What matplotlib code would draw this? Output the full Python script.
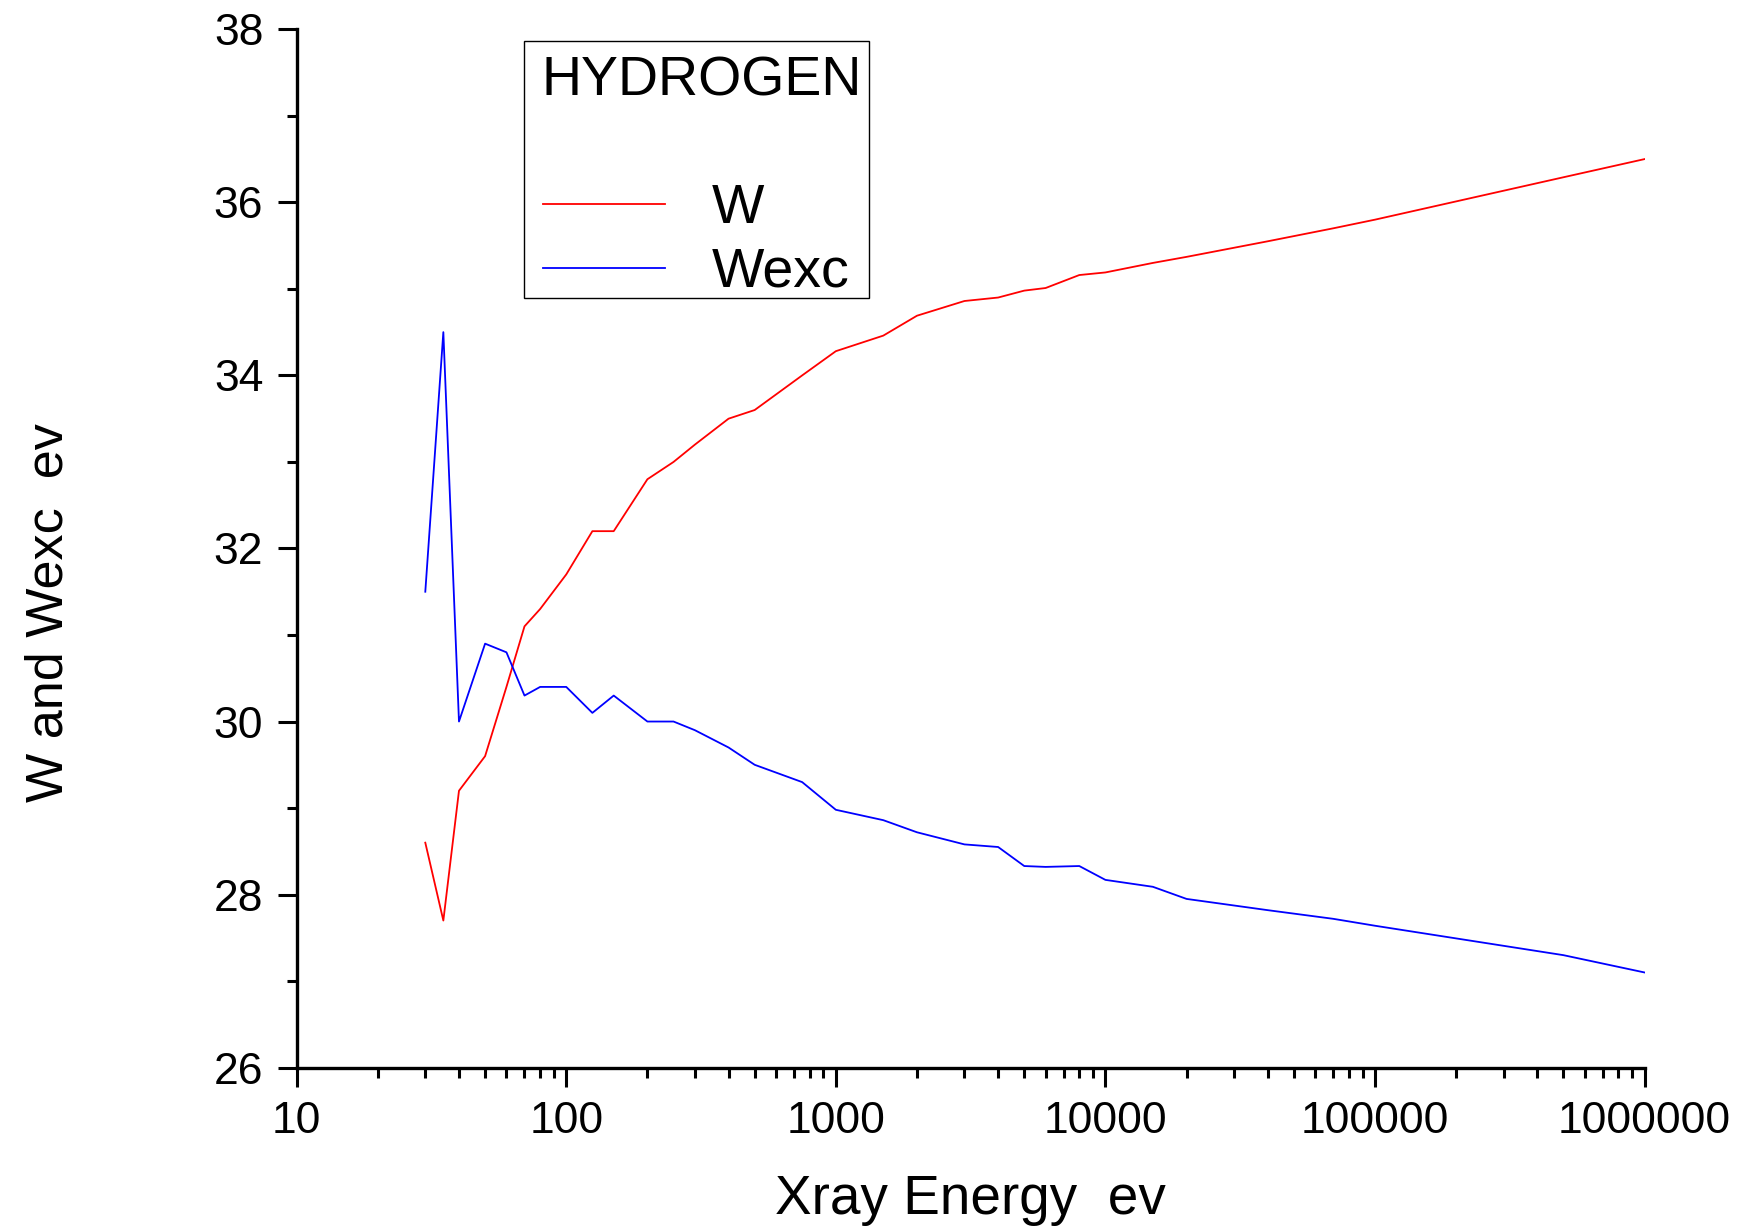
import matplotlib
matplotlib.use('Agg')
import matplotlib.pyplot as plt
from matplotlib.patches import Rectangle
from matplotlib.ticker import FixedLocator, FuncFormatter, LogLocator, NullFormatter

plt.rcParams['font.family'] = ['Liberation Sans', 'DejaVu Sans']

# photon energy (eV) and the two work functions for hydrogen
energy = [30, 35, 40, 50, 60, 70, 80, 100, 125, 150, 200, 250, 300, 400, 500, 750,
          1000, 1500, 2000, 3000, 4000, 5000, 6000, 8000, 10000, 15000, 20000,
          40000, 70000, 100000, 500000, 1000000]
w_vals = [28.6, 27.7, 29.2, 29.6, 30.4, 31.1, 31.3, 31.7, 32.2, 32.2, 32.8, 33.0, 33.2,
          33.5, 33.6, 34.0, 34.28, 34.46, 34.69, 34.86, 34.9, 34.98, 35.01, 35.16,
          35.19, 35.3, 35.37, 35.55, 35.7, 35.8, 36.29, 36.5]
wexc_vals = [31.5, 34.5, 30.0, 30.9, 30.8, 30.3, 30.4, 30.4, 30.1, 30.3, 30.0, 30.0,
             29.9, 29.7, 29.5, 29.3, 28.98, 28.86, 28.72, 28.58, 28.55, 28.33, 28.32,
             28.33, 28.17, 28.09, 27.95, 27.82, 27.72, 27.64, 27.3, 27.1]

fig = plt.figure(figsize=(17.39, 12.31), dpi=100)
ax = fig.add_axes([0.1706, 0.1327, 0.7751, 0.8435])

ln_w, = ax.plot(energy, w_vals, color='#ff0000', lw=1.3)
ln_x, = ax.plot(energy, wexc_vals, color='#0000ff', lw=1.3)

ax.set_xscale('log')
ax.set_xlim(10, 1e6)
ax.set_ylim(26, 38)
ax.xaxis.set_major_locator(LogLocator(base=10, numticks=10))
ax.xaxis.set_minor_locator(LogLocator(base=10, subs=range(2, 10), numticks=20))
ax.xaxis.set_major_formatter(FuncFormatter(lambda v, p: '%d' % round(v)))
ax.xaxis.set_minor_formatter(NullFormatter())
ax.yaxis.set_major_locator(FixedLocator(range(26, 39, 2)))
ax.yaxis.set_minor_locator(FixedLocator(range(27, 38, 2)))

for s in ['top', 'right']:
    ax.spines[s].set_visible(False)
for s in ['left', 'bottom']:
    ax.spines[s].set_linewidth(2.4)

ax.tick_params(which='major', direction='out', length=14, width=2.2, labelsize=32, pad=10)
ax.tick_params(which='minor', direction='out', length=7, width=2.2)

ax.set_xlabel('Xray Energy  ev', fontsize=39.5, va='baseline')
ax.xaxis.set_label_coords(0.5, -0.141)
ax.set_ylabel('W and Wexc  ev', fontsize=37.5, va='center')
ax.yaxis.set_label_coords(-0.1835, 0.4385)

# boxed legend with the element name on top
ax.add_patch(Rectangle((0.1689, 0.741), 0.2559, 0.248, transform=ax.transAxes,
                       fill=False, ec='black', lw=1.0, zorder=5))
ax.text(0.182, 0.9367, 'HYDROGEN', transform=ax.transAxes, fontsize=40, va='baseline')
for ln, lab, ky, ty in [(ln_w, 'W', 0.8318, 0.8132), (ln_x, 'Wexc', 0.7698, 0.7521)]:
    ax.plot([0.1825, 0.2733], [ky, ky], transform=ax.transAxes, color=ln.get_color(), lw=1.3)
    ax.text(0.3079, ty, lab, transform=ax.transAxes, fontsize=40, va='baseline')

fig.savefig('out.png', dpi=100)
